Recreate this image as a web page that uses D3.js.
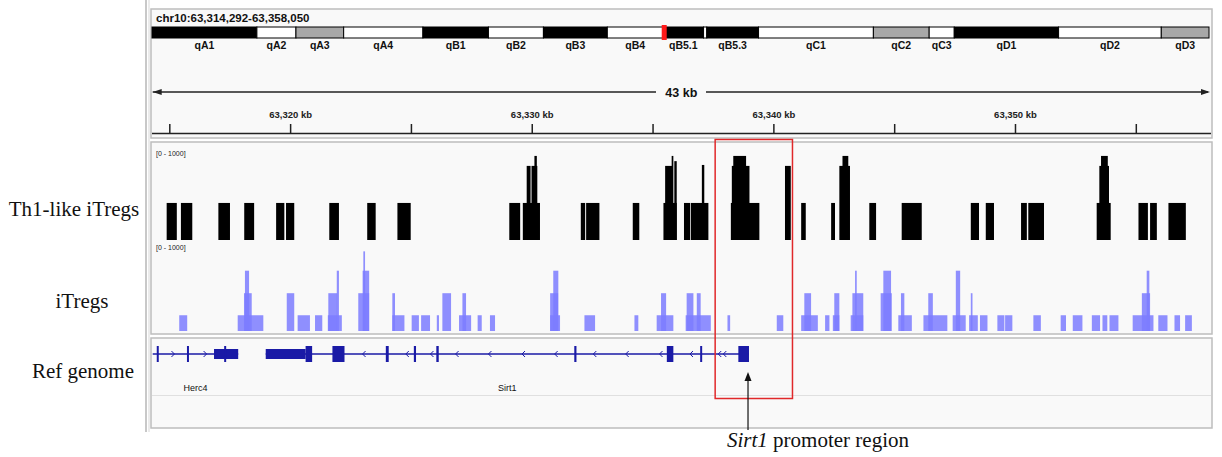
<!DOCTYPE html>
<html>
<head>
<meta charset="utf-8">
<script src="https://cdn.jsdelivr.net/npm/d3@7"></script>
<style>
body { margin: 0; background: #fff; }
svg text { font-family: Arial, "Liberation Sans", sans-serif; }
.side { font-family: "Liberation Serif", "Times New Roman", serif !important; font-size: 21px; fill: #111; }
</style>
</head>
<body>
<script>
var w = 1222;
var h = 457;

// locus shown (bp)
var locusStart = 63314292;
var locusEnd = 63358050;
var locusText = "chr10:63,314,292-63,358,050";
var spanText = "43 kb";

// ruler ticks (kb)
var rulerTicks = [63315, 63320, 63325, 63330, 63335, 63340, 63345, 63350, 63355];
var rulerLabels = [63320, 63330, 63340, 63350];

// chr10 ideogram bands (Mb)
var bandNames = ["qA1", "qA2", "qA3", "qA4", "qB1", "qB2", "qB3", "qB4", "qB5.1", "", "qB5.3",
                 "qC1", "qC2", "qC3", "qD1", "qD2", "qD3"];
var bandStarts = [0, 12.97, 17.8, 23.7, 33.5, 41.6, 48.4, 56.3, 63.2, 68.2, 68.6,
                  75.0, 89.2, 96.1, 99.2, 112.1, 124.8];
var bandEnds = [12.97, 17.8, 23.7, 33.5, 41.6, 48.4, 56.3, 63.2, 68.2, 68.6, 75.0,
                89.2, 96.1, 99.2, 112.1, 124.8, 130.7];
var bandStain = ["b", "w", "g", "w", "b", "w", "b", "w", "b", "w", "b",
                 "w", "g", "w", "b", "w", "g"];
var chrLength = 130.7;

// track names
var trackNames = ["Th1-like iTregs", "iTregs", "Ref genome"];
var dataRange = "[0 - 1000]";

// Th1-like iTregs signal: [start kb, end kb, value]
var th1Bars = [
  [63314.87, 63315.29, 390], [63315.46, 63315.93, 390], [63317.01, 63317.49, 390],
  [63318.08, 63318.49, 390], [63319.40, 63319.74, 390], [63319.81, 63320.15, 390],
  [63321.60, 63322.00, 390], [63323.17, 63323.52, 390], [63324.42, 63324.97, 390],
  [63329.05, 63329.50, 390], [63329.61, 63330.32, 390], [63329.77, 63329.93, 780],
  [63329.97, 63330.21, 780], [63330.09, 63330.19, 885], [63332.01, 63332.19, 390],
  [63332.23, 63332.78, 390], [63334.16, 63334.43, 390], [63335.43, 63335.98, 390],
  [63335.50, 63335.82, 780], [63335.77, 63335.84, 885], [63335.88, 63335.98, 830],
  [63336.28, 63336.53, 390], [63336.56, 63337.29, 390], [63337.02, 63337.12, 790],
  [63338.22, 63339.40, 390], [63338.26, 63338.99, 780], [63338.32, 63338.85, 885],
  [63340.46, 63340.70, 780], [63341.13, 63341.32, 390], [63342.37, 63342.53, 390],
  [63342.71, 63343.15, 780], [63342.84, 63343.08, 885], [63343.95, 63344.23, 390],
  [63345.29, 63346.12, 390], [63348.15, 63348.49, 390], [63348.77, 63349.11, 390],
  [63350.23, 63350.47, 390], [63350.53, 63351.18, 390], [63353.36, 63353.94, 390],
  [63353.47, 63353.87, 780], [63353.54, 63353.82, 885], [63355.09, 63355.48, 390],
  [63355.57, 63355.85, 390], [63356.33, 63357.05, 390]
];

// iTregs signal: [start kb, end kb, value]
var itregBars = [
  [63315.39, 63315.72, 175], [63317.81, 63318.87, 175], [63318.07, 63318.39, 420],
  [63318.11, 63318.28, 670], [63319.84, 63320.15, 420], [63320.29, 63320.80, 175],
  [63321.01, 63321.31, 175], [63321.54, 63322.12, 175], [63321.56, 63321.93, 420],
  [63321.91, 63322.00, 670], [63322.80, 63323.25, 420], [63322.98, 63323.25, 670],
  [63323.01, 63323.08, 885], [63324.21, 63324.71, 175], [63324.21, 63324.32, 420],
  [63325.01, 63325.31, 175], [63325.40, 63325.77, 175], [63326.05, 63326.14, 175],
  [63326.28, 63326.64, 420], [63326.97, 63327.47, 175], [63327.11, 63327.26, 420],
  [63327.74, 63327.91, 175], [63328.25, 63328.46, 175], [63330.74, 63331.15, 175],
  [63330.74, 63331.07, 420], [63330.87, 63331.08, 670], [63332.16, 63332.60, 175],
  [63334.23, 63334.39, 175], [63335.15, 63335.84, 175], [63335.33, 63335.54, 420],
  [63336.35, 63337.39, 175], [63336.39, 63336.67, 420], [63336.81, 63336.97, 420],
  [63338.08, 63338.19, 175], [63340.12, 63340.39, 175], [63341.13, 63341.82, 175],
  [63341.26, 63341.54, 420], [63342.12, 63342.30, 175], [63342.44, 63342.71, 175],
  [63342.50, 63342.71, 420], [63343.18, 63343.70, 175], [63343.25, 63343.70, 420],
  [63343.36, 63343.43, 670], [63344.42, 63344.88, 420], [63344.53, 63344.85, 670],
  [63345.15, 63345.71, 175], [63345.26, 63345.40, 420], [63346.19, 63347.18, 175],
  [63346.39, 63346.58, 420], [63347.40, 63347.94, 175], [63347.53, 63347.71, 670],
  [63348.08, 63348.44, 175], [63348.15, 63348.22, 420], [63348.53, 63348.84, 175],
  [63349.25, 63349.54, 175], [63349.57, 63349.87, 175], [63350.74, 63351.05, 175],
  [63351.87, 63352.09, 175], [63352.37, 63352.77, 175], [63353.16, 63353.50, 175],
  [63353.60, 63353.80, 175], [63353.89, 63354.26, 175], [63354.85, 63355.71, 175],
  [63355.23, 63355.57, 420], [63355.43, 63355.54, 670], [63355.91, 63356.29, 175],
  [63356.58, 63356.81, 175], [63357.02, 63357.30, 175]
];

// genes (kb): span, exons [start, end, kind], strand arrows
var geneNames = ["Herc4", "Sirt1"];
var geneSpans = [[63314.29, 63317.83], [63318.97, 63338.97]];
var herc4Exons = [[63314.46, 63314.54, "cds"], [63315.71, 63315.79, "cds"],
                  [63316.83, 63317.83, "utr"], [63317.25, 63317.31, "cds"]];
var sirt1Exons = [[63318.97, 63320.62, "utr"], [63320.62, 63320.89, "cds"],
                  [63321.73, 63322.23, "cds"], [63323.94, 63324.06, "cds"],
                  [63325.10, 63325.19, "cds"], [63326.03, 63326.13, "cds"],
                  [63331.74, 63331.83, "cds"], [63335.57, 63335.84, "cds"],
                  [63336.95, 63337.03, "cds"], [63338.53, 63338.97, "cds"]];
var herc4Arrows = [63315.13, 63316.46];
var sirt1Arrows = [63323.04, 63324.83, 63325.85, 63326.89, 63328.25, 63329.64, 63330.99,
                   63332.59, 63333.93, 63335.33, 63336.59, 63337.76, 63337.97];

// highlighted promoter window (kb)
var promoterBox = [63337.57, 63340.77];
var promoterTip = 63338.93;

// ---------- scales ----------
var x = d3.scaleLinear().domain([locusStart, locusEnd]).range([152.7, 1210]);
var xk = function(kb) { return x(kb * 1000); };
var xIdeo = d3.scaleLinear().domain([0, chrLength]).range([152, 1209]);
var yTh1 = d3.scaleLinear().domain([0, 1000]).range([240, 145]);
var yIt = d3.scaleLinear().domain([0, 1000]).range([331, 241]);

var svg = d3.select("body").append("svg")
            .attr("width", w).attr("height", h);

// left divider
svg.append("rect").attr("x", 145).attr("y", 0).attr("width", 2).attr("height", 432).attr("fill", "#c8c8c8");
svg.append("rect").attr("x", 148.5).attr("y", 0).attr("width", 1).attr("height", 432).attr("fill", "#d8d8d8");

// panels
var panels = [[9, 138], [142, 334], [338, 428]];
panels.forEach(function(p) {
    svg.append("rect")
       .attr("x", 151).attr("y", p[0])
       .attr("width", 1212 - 151).attr("height", p[1] - p[0])
       .attr("fill", "#f9f9f9").attr("stroke", "#bdbdbd").attr("stroke-width", 1.5);
});

// locus text
svg.append("text").text(locusText)
   .attr("x", 156).attr("y", 21.5)
   .attr("font-size", "11.5px").attr("font-weight", "bold").attr("fill", "#111");

// ideogram
var bands = bandNames.map(function(n, i) {
    return { name: n, s: bandStarts[i], e: bandEnds[i], stain: bandStain[i] };
});
var stainCol = { b: "#000", w: "#fff", g: "#a8a8a8" };
svg.selectAll(".band").data(bands).enter().append("rect")
   .attr("class", "band")
   .attr("x", function(d) { return xIdeo(d.s); })
   .attr("y", 27)
   .attr("width", function(d) { return xIdeo(d.e) - xIdeo(d.s); })
   .attr("height", 11)
   .attr("fill", function(d) { return stainCol[d.stain]; })
   .attr("stroke", "#000").attr("stroke-width", 1);
svg.selectAll(".bandLab").data(bands.filter(function(d) { return d.name !== ""; }))
   .enter().append("text")
   .attr("class", "bandLab")
   .attr("x", function(d) { return (xIdeo(d.s) + xIdeo(d.e)) / 2; })
   .attr("y", 48.5)
   .attr("text-anchor", "middle")
   .attr("font-size", "10.5px").attr("font-weight", "bold").attr("fill", "#111")
   .text(function(d) { return d.name; });
// current locus marker
var midMb = (locusStart + locusEnd) / 2 / 1e6;
svg.append("rect")
   .attr("x", xIdeo(midMb) - 2.5).attr("y", 25)
   .attr("width", 5).attr("height", 15)
   .attr("fill", "#ff1a1a");

// span arrow
var yArrow = 92;
svg.append("line").attr("x1", x(locusStart)).attr("x2", 656).attr("y1", yArrow).attr("y2", yArrow)
   .attr("stroke", "#222").attr("stroke-width", 1.5);
svg.append("line").attr("x1", 706).attr("x2", x(locusEnd) - 2).attr("y1", yArrow).attr("y2", yArrow)
   .attr("stroke", "#222").attr("stroke-width", 1.5);
svg.append("path")
   .attr("d", "M" + x(locusStart) + "," + yArrow + "l9,-3l0,6z").attr("fill", "#222");
svg.append("path")
   .attr("d", "M" + x(locusEnd) + "," + yArrow + "l-9,-3l0,6z").attr("fill", "#222");
svg.append("text").text(spanText)
   .attr("x", (x(locusStart) + x(locusEnd)) / 2).attr("y", yArrow + 4.5)
   .attr("text-anchor", "middle")
   .attr("font-size", "12.5px").attr("font-weight", "bold").attr("fill", "#111");

// ruler
svg.append("line").attr("x1", 152).attr("x2", 1211).attr("y1", 133.5).attr("y2", 133.5)
   .attr("stroke", "#222").attr("stroke-width", 1.5);
svg.selectAll(".rtick").data(rulerTicks).enter().append("line")
   .attr("x1", function(d) { return xk(d); }).attr("x2", function(d) { return xk(d); })
   .attr("y1", 124).attr("y2", 133)
   .attr("stroke", "#222").attr("stroke-width", 1.5);
svg.selectAll(".rlab").data(rulerLabels).enter().append("text")
   .attr("x", function(d) { return xk(d); }).attr("y", 118)
   .attr("text-anchor", "middle")
   .attr("font-size", "9.5px").attr("font-weight", "bold").attr("fill", "#222")
   .text(function(d) { return d3.format(",")(d) + " kb"; });

// signal tracks
function drawBars(data, yScale, col, op) {
    svg.append("g").selectAll("rect").data(data).enter().append("rect")
       .attr("x", function(d) { return xk(d[0]); })
       .attr("y", function(d) { return yScale(d[2]); })
       .attr("width", function(d) { return Math.max(1.2, xk(d[1]) - xk(d[0])); })
       .attr("height", function(d) { return yScale(0) - yScale(d[2]); })
       .attr("fill", col).attr("fill-opacity", op);
}
drawBars(th1Bars, yTh1, "#000", 1);
drawBars(itregBars, yIt, "#7d7dff", 0.85);

svg.append("text").text(dataRange).attr("x", 156).attr("y", 156)
   .attr("font-size", "7px").attr("fill", "#222");
svg.append("text").text(dataRange).attr("x", 156).attr("y", 250)
   .attr("font-size", "7px").attr("fill", "#222");

// gene track
var yGene = 354;
var geneCol = "#1a1aa6";
geneSpans.forEach(function(s) {
    svg.append("line")
       .attr("x1", Math.max(x(locusStart), xk(s[0]))).attr("x2", xk(s[1]))
       .attr("y1", yGene).attr("y2", yGene)
       .attr("stroke", geneCol).attr("stroke-width", 1.5);
});
function drawExons(ex) {
    svg.append("g").selectAll("rect").data(ex).enter().append("rect")
       .attr("x", function(d) { return xk(d[0]); })
       .attr("y", function(d) { return d[2] === "cds" ? yGene - 8 : yGene - 5; })
       .attr("width", function(d) { return Math.max(2, xk(d[1]) - xk(d[0])); })
       .attr("height", function(d) { return d[2] === "cds" ? 16 : 10; })
       .attr("fill", geneCol);
}
drawExons(herc4Exons);
drawExons(sirt1Exons);
function drawArrows(pos, dir) {
    svg.append("g").selectAll("path").data(pos).enter().append("path")
       .attr("d", function(d) {
           var px = xk(d);
           return dir === "+" ? "M" + (px - 1.5) + "," + (yGene - 3) + "L" + (px + 1.5) + "," + yGene + "L" + (px - 1.5) + "," + (yGene + 3)
                              : "M" + (px + 1.5) + "," + (yGene - 3) + "L" + (px - 1.5) + "," + yGene + "L" + (px + 1.5) + "," + (yGene + 3);
       })
       .attr("fill", "none").attr("stroke", geneCol).attr("stroke-width", 1);
}
drawArrows(herc4Arrows, "+");
drawArrows(sirt1Arrows, "-");
geneNames.forEach(function(n, i) {
    var a = Math.max(x(locusStart), xk(geneSpans[i][0]));
    var b = xk(geneSpans[i][1]);
    svg.append("text").text(n)
       .attr("x", (a + b) / 2).attr("y", 391)
       .attr("text-anchor", "middle")
       .attr("font-size", "9px").attr("fill", "#111");
});
svg.append("line").attr("x1", 152).attr("x2", 1211).attr("y1", 395.5).attr("y2", 395.5)
   .attr("stroke", "#e0e0e0").attr("stroke-width", 1);

// promoter highlight
svg.append("rect")
   .attr("x", xk(promoterBox[0])).attr("y", 139.5)
   .attr("width", xk(promoterBox[1]) - xk(promoterBox[0])).attr("height", 259)
   .attr("fill", "none").attr("stroke", "#e0282a").attr("stroke-width", 1.5);

// annotation arrow
var ax = xk(promoterTip);
svg.append("line").attr("x1", ax).attr("x2", ax).attr("y1", 430).attr("y2", 380)
   .attr("stroke", "#111").attr("stroke-width", 1.2);
svg.append("path").attr("d", "M" + ax + ",372l-3.5,9l7,0z").attr("fill", "#111");
var ann = svg.append("text").attr("class", "side").attr("x", 727).attr("y", 447);
ann.append("tspan").attr("font-style", "italic").text("Sirt1");
ann.append("tspan").text(" promoter region");

// track names
var nameY = [216, 308, 378];
var nameX = [74, 82, 83];
trackNames.forEach(function(n, i) {
    svg.append("text").attr("class", "side")
       .attr("x", nameX[i]).attr("y", nameY[i])
       .attr("text-anchor", "middle").text(n);
});
</script>
</body>
</html>
